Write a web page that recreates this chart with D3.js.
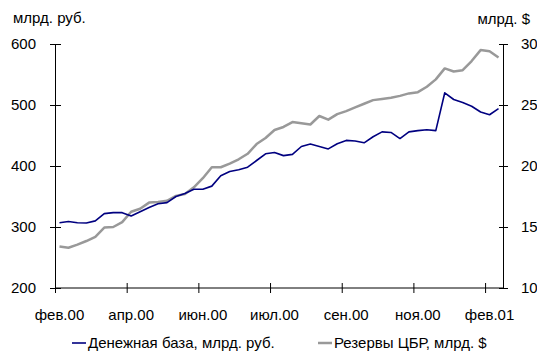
<!DOCTYPE html>
<html lang="ru">
<head>
    <meta charset="UTF-8">
    <script src="https://d3js.org/d3.v7.min.js"></script>
    <style>
        body { margin: 0; background: #fff; }
        text { font-family: "Liberation Sans", Arial, sans-serif; fill: #000; }
    </style>
</head>
<body>
    <svg id="chart" width="537" height="358"></svg>
    <script>
        // Денежная база, млрд. руб. (левая ось)
        const baseMoney = [307, 309, 307, 306.5, 310, 322, 323.5, 323.5, 318, 325,
            332, 338, 340, 350, 355, 362, 362, 367, 384, 391,
            394, 398, 409, 420, 422, 417, 419, 432, 436, 432,
            428, 436.5, 442, 441, 438, 448, 456, 455, 445, 456,
            458, 459.5, 458, 520, 509, 504, 498, 488.5, 484, 494];

        // Резервы ЦБР, млрд. $ (правая ось)
        const reserves = [13.4, 13.3, 13.55, 13.85, 14.2, 14.95, 15.0, 15.4, 16.25, 16.5,
            17.0, 17.05, 17.15, 17.55, 17.7, 18.25, 19.0, 19.9, 19.9, 20.2,
            20.55, 21.0, 21.8, 22.3, 22.95, 23.2, 23.6, 23.5, 23.4, 24.1,
            23.8, 24.25, 24.5, 24.8, 25.1, 25.4, 25.5, 25.6, 25.75, 25.95,
            26.05, 26.5, 27.1, 28.0, 27.75, 27.85, 28.6, 29.5, 29.4, 28.9];

        // подписи оси X: номер точки и текст
        const xLabelIdx = [0, 8, 16, 24, 32, 40, 48];
        const xLabels = ["фев.00", "апр.00", "июн.00", "июл.00", "сен.00", "ноя.00", "фев.01"];
        const leftTicks = [200, 300, 400, 500, 600];
        const rightTicks = [10, 15, 20, 25, 30];

        const svg = d3.select("#chart");
        const m = { left: 55, right: 503, top: 44, bottom: 288 };
        const fs = "15px";

        const x = d3.scaleLinear().domain([0, baseMoney.length]).range([m.left, m.right]);
        const yL = d3.scaleLinear().domain([200, 600]).range([m.bottom, m.top]);
        const yR = d3.scaleLinear().domain([10, 30]).range([m.bottom, m.top]);

        // Ось X
        const gx = svg.append("g")
            .attr("transform", `translate(0,${m.bottom})`)
            .call(d3.axisBottom(x).tickValues(xLabelIdx).tickFormat("").tickSizeOuter(0));
        gx.selectAll(".tick line").attr("y1", -5).attr("y2", 5);
        gx.select(".domain").attr("d", `M${m.left},0H${m.right}`);

        svg.selectAll(".xlab")
            .data(xLabelIdx)
            .enter().append("text")
            .attr("class", "xlab")
            .attr("x", d => x(d + 0.5))
            .attr("y", m.bottom + 32)
            .attr("text-anchor", "middle")
            .style("font-size", fs)
            .text((d, i) => xLabels[i]);

        // Левая ось
        const gl = svg.append("g")
            .attr("transform", `translate(${m.left},0)`)
            .call(d3.axisLeft(yL).tickValues(leftTicks).tickSizeOuter(0).tickPadding(13));
        gl.selectAll(".tick line").attr("x1", -5).attr("x2", 6);
        gl.selectAll(".tick text").style("font-size", fs);

        // Правая ось
        const gr = svg.append("g")
            .attr("transform", `translate(${m.right},0)`)
            .call(d3.axisRight(yR).tickValues(rightTicks).tickSizeOuter(0).tickPadding(12));
        gr.selectAll(".tick line").attr("x1", -4).attr("x2", 5);
        gr.selectAll(".tick text").style("font-size", fs);

        svg.selectAll("g").attr("font-family", null);
        svg.selectAll(".domain, .tick line").attr("stroke", "#000");

        // Подписи единиц
        svg.append("text").attr("x", 13).attr("y", 23)
            .style("font-size", fs).text("млрд. руб.");
        svg.append("text").attr("x", 530).attr("y", 24)
            .attr("text-anchor", "end")
            .style("font-size", fs).text("млрд. $");

        // Линии
        const lineL = d3.line().x((d, i) => x(i + 0.5)).y(d => yL(d));
        const lineR = d3.line().x((d, i) => x(i + 0.5)).y(d => yR(d));

        svg.append("path")
            .datum(reserves)
            .attr("fill", "none")
            .attr("stroke", "#999999")
            .attr("stroke-width", 2.5)
            .attr("stroke-linejoin", "round")
            .attr("d", lineR);

        svg.append("path")
            .datum(baseMoney)
            .attr("fill", "none")
            .attr("stroke", "#000080")
            .attr("stroke-width", 1.6)
            .attr("stroke-linejoin", "round")
            .attr("d", lineL);

        // Легенда
        const legend = [
            { name: "Денежная база, млрд. руб.", color: "#000080", w: 1.6, x: 72 },
            { name: "Резервы ЦБР, млрд. $", color: "#999999", w: 2.5, x: 318 }
        ];
        const lg = svg.selectAll(".leg")
            .data(legend)
            .enter().append("g")
            .attr("class", "leg")
            .attr("transform", d => `translate(${d.x},343)`);
        lg.append("line")
            .attr("x1", 0).attr("x2", 14)
            .attr("stroke", d => d.color)
            .attr("stroke-width", d => d.w);
        lg.append("text")
            .attr("x", 16).attr("y", 5)
            .style("font-size", fs)
            .text(d => d.name);
    </script>
</body>
</html>
